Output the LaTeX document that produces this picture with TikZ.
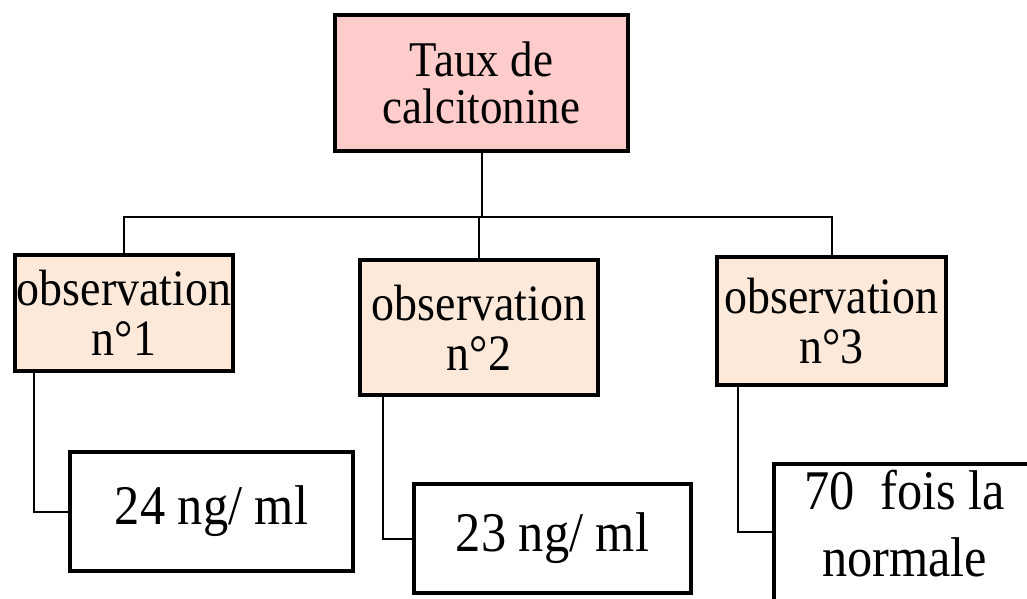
\documentclass[tikz,border=0pt]{standalone}
\usepackage{fontspec}
\setmainfont{Liberation Serif}[FakeStretch=0.9]
\definecolor{tauxpink}{RGB}{255,204,204}
\definecolor{obspeach}{RGB}{253,233,217}

\begin{document}
\begin{tikzpicture}[x=1pt,y=-1pt,
  boite/.style={draw=black,line width=3.5pt,align=center,inner sep=0pt},
  obs/.style={boite,fill=obspeach,font=\fontsize{51}{50}\selectfont},
  valeur/.style={boite,fill=white,font=\fontsize{56}{67}\selectfont},
  lien/.style={draw=black,line width=2pt}]
    \useasboundingbox (0,0) rectangle (1027,599);
    \node[boite,fill=tauxpink,font=\fontsize{50}{47}\selectfont,minimum width=293pt,minimum height=136pt] (taux) at (481.5,83) {Taux de\\calcitonine};
    \node[obs,minimum width=218pt,minimum height=116pt] (obs1) at (124,313) {observation\\n°1};
    \node[obs,minimum width=238pt,minimum height=135pt] (obs2) at (479,327.5) {observation\\n°2};
    \node[obs,minimum width=229pt,minimum height=128pt] (obs3) at (831.5,321) {observation\\n°3};
    \node[valeur,minimum width=283pt,minimum height=119pt] (val1) at (211.5,511.5) {24 ng/ ml};
    \node[valeur,minimum width=277pt,minimum height=109pt] (val2) at (552.5,538.5) {23 ng/ ml};
    \node[valeur,anchor=north west,minimum width=262pt,text height=113pt,text depth=40pt] (val3) at (772,462) {70\ \ fois la\\normale};
    \draw[lien] (taux.south) -- ++(0,64) coordinate (bus);
    \draw[lien] (obs1.north) |- (bus) -| (obs3.north);
    \draw[lien] (obs2.north) -- (obs2.north |- bus);
    \draw[lien] ([xshift=21pt]obs1.south west) |- (val1.west);
    \draw[lien] ([xshift=25pt]obs2.south west) |- (val2.west);
    \draw[lien] ([xshift=23pt]obs3.south west) |- ([yshift=-70pt]val3.north west);
\end{tikzpicture}
\end{document}
